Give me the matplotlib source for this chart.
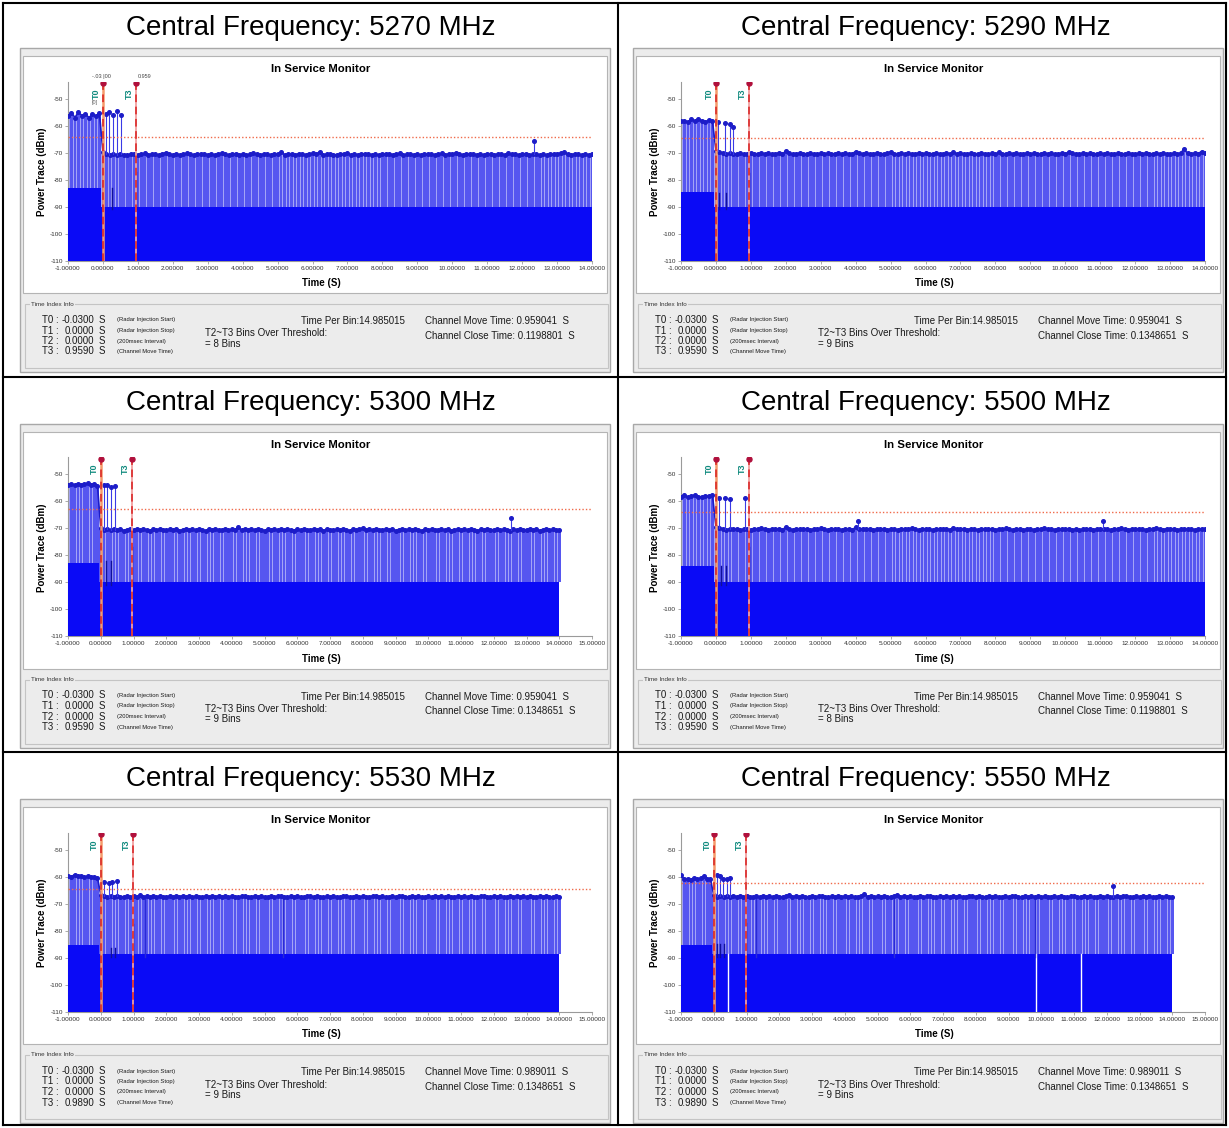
import numpy as np
import matplotlib
matplotlib.use("Agg")
import matplotlib.pyplot as plt
from matplotlib.patches import Rectangle

plt.rcParams['font.family'] = ['Liberation Sans', 'DejaVu Sans']

# ---------------- data ----------------
freqs = [5270, 5290, 5300, 5500, 5530, 5550]
x_max = [14, 14, 15, 14, 15, 15]
t_start = -1.0
t_step = 0.1

# peak level of each stem before radar stop (t = -1.0 .. -0.1)
pre_5270 = [-56.5, -55.2, -56.9, -54.8, -56.3, -55.5, -57.0, -55.6, -56.4, -55.3]
pre_5290 = [-58.2, -58.0, -58.5, -57.6, -58.3, -57.4, -58.1, -58.4, -57.9, -58.2]
pre_5300 = [-53.8, -53.5, -54.0, -53.4, -53.9, -53.6, -53.3, -53.8, -53.5, -54.1]
pre_5500 = [-58.3, -57.8, -58.5, -58.0, -57.6, -58.2, -58.4, -57.9, -58.1, -57.7]
pre_5530 = [-59.6, -59.9, -59.2, -59.8, -59.5, -60.1, -59.7, -59.9, -60.2, -60.4]
pre_5550 = [-59.3, -60.9, -60.6, -61.0, -60.4, -60.8, -60.5, -59.8, -60.7, -60.9]

# peak level of each stem after radar stop (t = 0.0 .. 14.0)
post_5270 = [
    -69.8, -70.6, -70.9, -70.5, -70.8, -70.4, -70.7, -70.9, -70.3, -70.6, -70.8, -70.5, -70.2, -70.7, -70.4,
    -70.6, -70.9, -70.3, -69.9, -70.5, -70.7, -70.4, -70.8, -70.6, -70.2, -70.5, -70.9, -70.4, -70.6, -70.3,
    -70.7, -70.5, -70.8, -70.4, -70.1, -70.6, -70.9, -70.5, -70.3, -70.7, -70.4, -70.8, -70.6, -70.2, -70.5,
    -70.8, -70.4, -70.6, -70.9, -70.3, -70.5, -69.8, -70.7, -70.4, -70.6, -70.8, -70.3, -70.5, -70.7, -70.4,
    -70.2, -70.6, -69.6, -70.8, -70.5, -70.3, -70.7, -70.9, -70.4, -70.6, -70.2, -70.8, -70.5, -70.7, -70.3,
    -70.6, -70.4, -70.8, -70.5, -70.9, -70.3, -70.6, -70.4, -70.7, -70.5, -70.2, -70.8, -70.6, -70.4, -70.7,
    -70.5, -70.9, -70.3, -70.6, -70.4, -70.8, -70.5, -70.2, -70.7, -70.4, -70.6, -69.9, -70.5, -70.8, -70.3,
    -70.6, -70.4, -70.7, -70.5, -70.9, -70.3, -70.6, -70.8, -70.4, -70.5, -70.7, -70.2, -70.6, -70.4, -70.8,
    -70.5, -70.3, -70.7, -70.6, -70.4, -70.8, -70.5, -70.9, -70.4, -70.6, -70.3, -70.1, -69.8, -70.5, -70.7,
    -70.4, -70.6, -70.8, -70.5, -70.7, -70.6]
post_5290 = [
    -69.2, -69.6, -70.1, -70.4, -70.2, -70.5, -70.3, -70.1, -70.4, -70.6, -70.2, -70.3, -70.5, -70.1, -70.4,
    -70.2, -70.5, -70.3, -70.0, -70.4, -69.4, -70.2, -70.5, -70.3, -70.1, -70.4, -70.6, -70.2, -70.3, -70.5,
    -70.1, -70.4, -70.2, -70.6, -70.3, -70.0, -70.4, -70.2, -70.5, -70.3, -69.5, -70.1, -70.4, -70.2, -70.5,
    -70.3, -70.1, -70.4, -70.6, -70.2, -69.6, -70.3, -70.5, -70.1, -70.4, -70.2, -70.3, -70.5, -70.0, -70.4,
    -70.2, -70.5, -70.3, -70.1, -70.4, -70.6, -70.2, -70.3, -69.7, -70.4, -70.1, -70.5, -70.3, -70.2, -70.4,
    -70.6, -70.1, -70.3, -70.5, -70.2, -70.4, -69.8, -70.3, -70.5, -70.1, -70.4, -70.2, -70.6, -70.3, -70.1,
    -70.4, -70.2, -70.5, -70.3, -70.0, -70.4, -70.2, -70.5, -70.3, -70.1, -70.4, -69.6, -70.2, -70.3, -70.5,
    -70.1, -70.4, -70.2, -70.6, -70.3, -70.2, -70.4, -70.1, -70.5, -70.3, -70.2, -70.4, -70.6, -70.1, -70.3,
    -70.5, -70.2, -70.4, -70.1, -70.3, -70.5, -70.2, -70.4, -70.0, -70.3, -70.5, -70.2, -70.4, -70.1, -68.6,
    -70.2, -70.4, -70.1, -70.3, -69.5, -70.2]
post_5300 = [
    -70.0, -70.5, -70.2, -70.7, -70.4, -70.6, -70.3, -70.8, -70.5, -70.2, -70.6, -70.4, -70.7, -70.3, -70.5,
    -70.8, -70.4, -70.6, -70.2, -70.5, -70.7, -70.3, -70.6, -70.4, -70.8, -70.5, -70.2, -70.6, -70.4, -70.7,
    -70.3, -70.5, -70.8, -70.4, -70.6, -70.2, -70.5, -70.7, -70.3, -70.6, -70.4, -70.5, -69.6, -70.6, -70.3,
    -70.7, -70.4, -70.5, -70.2, -70.6, -70.8, -70.4, -70.5, -70.3, -70.7, -70.4, -70.6, -70.2, -70.5, -70.8,
    -70.3, -70.6, -70.4, -70.7, -70.5, -70.2, -70.6, -70.4, -70.8, -70.3, -70.5, -70.7, -70.4, -70.6, -70.2,
    -70.5, -70.8, -70.4, -70.6, -70.3, -69.8, -70.5, -70.4, -70.6, -70.2, -70.7, -70.5, -70.3, -70.6, -70.4,
    -70.8, -70.5, -70.2, -70.6, -70.4, -70.7, -70.3, -70.5, -70.8, -70.4, -70.6, -70.2, -70.5, -70.7, -70.3,
    -70.6, -70.4, -70.8, -70.5, -70.2, -70.6, -70.4, -70.7, -70.3, -70.5, -70.8, -70.4, -70.6, -70.2, -70.5,
    -70.7, -70.3, -70.6, -70.4, -70.5, -70.8, -70.3, -70.6, -70.4, -70.7, -70.5, -70.2, -70.6, -70.4, -70.8,
    -70.5, -70.3, -70.6, -70.4, -70.7, -70.5]
post_5500 = [
    -69.4, -69.8, -70.2, -70.5, -70.1, -70.4, -70.2, -70.6, -70.3, -70.1, -70.5, -70.2, -70.4, -70.0, -70.3,
    -70.5, -70.2, -70.4, -70.1, -70.6, -69.5, -70.3, -70.5, -70.2, -70.4, -70.1, -70.3, -70.6, -70.2, -70.4,
    -70.0, -70.3, -70.5, -70.2, -70.4, -70.1, -70.6, -70.3, -70.2, -70.5, -69.6, -70.3, -70.1, -70.4, -70.2,
    -70.5, -70.3, -70.1, -70.4, -70.6, -70.2, -70.3, -70.5, -70.1, -70.4, -70.2, -70.0, -70.3, -70.5, -70.2,
    -70.4, -70.1, -70.6, -70.3, -70.2, -70.4, -70.1, -70.5, -69.7, -70.3, -70.4, -70.2, -70.5, -70.1, -70.3,
    -70.6, -70.2, -70.4, -70.1, -70.3, -70.5, -70.2, -70.4, -70.0, -70.3, -70.5, -70.2, -70.4, -70.6, -70.1,
    -70.3, -70.5, -70.2, -70.4, -69.8, -70.3, -70.1, -70.5, -70.2, -70.4, -70.3, -70.1, -70.5, -70.2, -70.6,
    -70.3, -70.4, -70.1, -70.5, -70.2, -70.3, -70.4, -70.1, -70.6, -70.2, -70.4, -70.0, -70.3, -70.5, -70.2,
    -70.4, -70.1, -70.3, -70.5, -70.2, -70.4, -69.7, -70.3, -70.5, -70.1, -70.4, -70.2, -70.6, -70.3, -70.1,
    -70.4, -70.2, -70.5, -70.3, -70.1, -70.4]
post_5530 = [
    -66.6, -67.1, -67.4, -67.2, -67.5, -67.0, -67.3, -67.5, -67.1, -67.4, -67.2, -67.5, -66.8, -67.3, -67.1,
    -67.4, -67.2, -67.5, -67.0, -67.3, -67.4, -67.1, -67.5, -67.2, -67.3, -67.0, -67.4, -67.2, -67.5, -67.1,
    -67.3, -67.4, -67.1, -67.5, -67.2, -67.3, -67.0, -67.4, -67.2, -67.5, -67.1, -67.3, -67.4, -67.2, -67.0,
    -67.5, -67.3, -67.1, -67.4, -67.2, -67.3, -67.5, -67.1, -67.4, -67.2, -67.0, -67.3, -67.5, -67.1, -67.4,
    -67.2, -67.3, -67.5, -67.1, -67.2, -67.4, -67.0, -67.3, -67.5, -67.2, -67.4, -67.1, -67.3, -67.5, -67.2,
    -67.0, -67.4, -67.3, -67.1, -67.5, -67.2, -67.4, -67.3, -67.1, -66.9, -67.4, -67.2, -67.5, -67.3, -67.1,
    -67.4, -67.2, -67.0, -67.3, -67.5, -67.2, -67.4, -67.1, -67.3, -67.5, -67.2, -67.4, -67.0, -67.3, -67.1,
    -67.5, -67.2, -67.4, -67.3, -67.1, -67.4, -67.2, -67.5, -67.0, -67.3, -67.4, -67.2, -67.1, -67.5, -67.3,
    -67.2, -67.4, -67.1, -67.3, -67.5, -67.2, -67.4, -67.0, -67.3, -67.2, -67.5, -67.1, -67.4, -67.3, -67.2,
    -67.4, -67.1, -67.3, -67.5, -67.2, -67.4]
post_5550 = [
    -66.8, -67.3, -67.1, -67.4, -67.2, -67.5, -66.9, -67.3, -67.1, -67.4, -67.2, -67.3, -67.5, -67.1, -67.4,
    -67.0, -67.3, -67.2, -67.5, -67.1, -67.3, -67.4, -67.2, -66.8, -67.3, -67.1, -67.4, -67.2, -67.5, -67.3,
    -67.1, -67.4, -67.2, -67.0, -67.3, -67.5, -67.2, -67.4, -67.1, -67.3, -67.2, -67.4, -67.1, -67.5, -67.3,
    -67.2, -66.4, -67.3, -67.1, -67.4, -67.2, -67.5, -67.1, -67.3, -67.4, -67.2, -66.6, -67.3, -67.1, -67.4,
    -67.2, -67.5, -67.3, -67.1, -67.4, -67.2, -67.0, -67.3, -67.5, -67.2, -67.4, -67.1, -67.3, -67.2, -67.5,
    -67.1, -67.4, -67.3, -67.2, -67.0, -67.4, -67.2, -67.5, -67.3, -67.1, -67.4, -67.2, -67.3, -67.5, -67.1,
    -67.4, -67.2, -67.0, -67.3, -67.5, -67.2, -67.4, -67.1, -67.3, -67.2, -67.5, -67.1, -67.4, -67.3, -67.2,
    -67.4, -67.1, -67.3, -67.5, -67.2, -67.0, -67.4, -67.3, -67.1, -67.5, -67.2, -67.4, -67.3, -67.1, -67.4,
    -67.2, -67.5, -67.3, -67.1, -67.4, -67.2, -67.0, -67.3, -67.5, -67.2, -67.4, -67.1, -67.3, -67.2, -67.5,
    -67.3, -67.1, -67.4, -67.2, -67.3, -67.5]

# top of the dense (dark) part of the trace before / after radar stop
pre_floor = [-83.0, -84.4, -82.7, -84.0, -85.2, -85.2]
post_floor = [-90.0, -90.0, -90.0, -90.0, -88.7, -88.7]
threshold = [-64.2, -64.5, -62.7, -64.0, -64.3, -62.3]

# isolated stems above the trace: (time, dBm)
spikes_5270 = [(0.09, -55.4), (0.18, -54.9), (0.29, -55.8), (0.40, -54.6), (0.51, -55.9), (12.35, -65.5)]
spikes_5290 = [(0.06, -58.5), (0.26, -58.8), (0.40, -59.2), (0.50, -60.3)]
spikes_5300 = [(0.10, -54.0), (0.20, -53.8), (0.30, -54.5), (0.45, -54.2), (12.53, -66.0)]
spikes_5500 = [(0.10, -58.6), (0.25, -58.8), (0.40, -59.0), (0.83, -58.7), (4.07, -67.3), (11.08, -67.3)]
spikes_5530 = [(0.10, -61.8), (0.25, -62.2), (0.35, -62.0), (0.50, -61.6)]
spikes_5550 = [(0.09, -59.4), (0.19, -59.8), (0.28, -60.8), (0.40, -60.8), (0.50, -60.5), (12.19, -63.5)]

# dark stems inside the trace: (time, top dBm)
dark_5270 = [(0.0, -77.0), (0.959, -77.0), (0.25, -83.0)]
dark_5290 = [(0.0, -77.5), (0.959, -77.5), (0.10, -85.0), (0.30, -85.0)]
dark_5300 = [(0.0, -77.0), (0.959, -77.0), (0.15, -82.0), (0.30, -82.0)]
dark_5500 = [(0.0, -77.0), (0.959, -77.0), (0.15, -84.0), (0.30, -84.0)]
dark_5530 = [(0.0, -77.5), (0.989, -77.5), (0.30, -86.5), (0.45, -86.5), (1.35, -67.5), (5.55, -67.5)]
dark_5550 = [(0.0, -77.0), (0.989, -77.0), (0.10, -85.0), (0.20, -85.0), (0.30, -85.0),
             (1.30, -67.5), (5.50, -67.5), (9.80, -67.5)]

# gaps in the dense trace
gaps_5550 = [0.42, 9.85, 11.2]

# time index info
t0_vals = ['-0.0300'] * 6
t1_vals = ['0.0000'] * 6
t2_vals = ['0.0000'] * 6
t3_vals = ['0.9590', '0.9590', '0.9590', '0.9590', '0.9890', '0.9890']
t3_time = [0.959, 0.959, 0.959, 0.959, 0.989, 0.989]
t1_time = [0.0] * 6
bins_over = [8, 9, 9, 8, 9, 9]
move_time = ['0.959041', '0.959041', '0.959041', '0.959041', '0.989011', '0.989011']
close_time = ['0.1198801', '0.1348651', '0.1348651', '0.1198801', '0.1348651', '0.1348651']
time_per_bin = '14.985015'
t_notes = ['(Radar Injection Start)', '(Radar Injection Stop)', '(200msec Interval)', '(Channel Move Time)']

panels = [
    dict(pre=pre_5270, post=post_5270, spikes=spikes_5270, dark=dark_5270, gaps=[]),
    dict(pre=pre_5290, post=post_5290, spikes=spikes_5290, dark=dark_5290, gaps=[]),
    dict(pre=pre_5300, post=post_5300, spikes=spikes_5300, dark=dark_5300, gaps=[]),
    dict(pre=pre_5500, post=post_5500, spikes=spikes_5500, dark=dark_5500, gaps=[]),
    dict(pre=pre_5530, post=post_5530, spikes=spikes_5530, dark=dark_5530, gaps=[]),
    dict(pre=pre_5550, post=post_5550, spikes=spikes_5550, dark=dark_5550, gaps=gaps_5550),
]

# ---------------- figure ----------------
W, H = 1229, 1128
fig = plt.figure(figsize=(W / 100, H / 100), dpi=100)
bg = fig.add_axes([0, 0, 1, 1])
bg.set_xlim(0, W)
bg.set_ylim(H, 0)
bg.axis('off')


def frac(x0, y0, x1, y1):
    return [x0 / W, 1 - y1 / H, (x1 - x0) / W, (y1 - y0) / H]


COL_DX = [0, 613]
ROW_DY = [0, 375.5, 751]
DARK = '#0a0af6'
MID = '#5656f0'
PALE = '#a4a4f6'
LINE = '#1c1cc8'
TXT = '#1a1a1a'

for i, f in enumerate(freqs):
    r, c = divmod(i, 2)
    dx, dy = COL_DX[c], ROW_DY[r]
    p = panels[i]

    # header
    bg.text(311 + dx + (2 if c else 0), 35 + dy, f'Central Frequency: {f} MHz', fontsize=20,
            ha='center', va='baseline', color='black')
    # screenshot frame
    bg.add_patch(Rectangle((20 + dx, 48 + dy), 590, 324, facecolor='#ececec', edgecolor='#a8a8a8', lw=1))
    bg.add_patch(Rectangle((23 + dx, 56 + dy), 584, 237, facecolor='white', edgecolor='#b4b4b4', lw=0.8))
    bg.text(321 + dx, 69 + dy, 'In Service Monitor', fontsize=8.2, weight='bold', ha='center', va='center')
    bg.text(41.7 + dx, 172 + dy, 'Power Trace (dBm)', fontsize=7, weight='bold', rotation=90,
            ha='center', va='center')
    bg.text(321 + dx, 283 + dy, 'Time (S)', fontsize=7, weight='bold', ha='center', va='center')

    # info group box
    bg.add_patch(Rectangle((25 + dx, 304 + dy), 583, 64, facecolor='none', edgecolor='#c4c4c4', lw=0.8))
    bg.text(31 + dx, 304 + dy, 'Time Index Info', fontsize=4.5, ha='left', va='center', color='#333',
            bbox=dict(facecolor='#ececec', edgecolor='none', pad=0.6))
    tvals = [t0_vals[i], t1_vals[i], t2_vals[i], t3_vals[i]]
    for k, yy in enumerate([320, 330.5, 341, 351.5]):
        bg.text(42 + dx, yy + dy, f'T{k} :', fontsize=7, ha='left', va='center', color=TXT)
        bg.text(94 + dx, yy + dy, tvals[k], fontsize=7, ha='right', va='center', color=TXT)
        bg.text(99 + dx, yy + dy, 'S', fontsize=7, ha='left', va='center', color=TXT)
        bg.text(117 + dx, yy + dy, t_notes[k], fontsize=4.2, ha='left', va='center', color=TXT)
    bg.text(405 + dx, 321 + dy, f'Time Per Bin:{time_per_bin}', fontsize=7, ha='right', va='center', color=TXT)
    bg.text(205 + dx, 333.5 + dy, 'T2~T3 Bins Over Threshold:', fontsize=7, ha='left', va='center', color=TXT)
    bg.text(205 + dx, 344 + dy, f'= {bins_over[i]} Bins', fontsize=7, ha='left', va='center', color=TXT)
    bg.text(425 + dx, 321 + dy, f'Channel Move Time: {move_time[i]}  S', fontsize=7, ha='left', va='center', color=TXT)
    bg.text(425 + dx, 336 + dy, f'Channel Close Time: {close_time[i]}  S', fontsize=7, ha='left', va='center', color=TXT)

    # ---- the plot ----
    ax = fig.add_axes(frac(68 + dx, 81.7 + dy, 592 + dx, 260.7 + dy))
    ax.set_facecolor('none')
    level = np.array(p['pre'] + p['post'])
    t = t_start + t_step * np.arange(len(level))
    floor = np.where(t < 0, pre_floor[i], post_floor[i])

    ax.fill_between(t, floor, level, step='mid', color=PALE, lw=0, zorder=1)
    ax.bar(t, level - floor, bottom=floor, width=0.08, color=MID, lw=0, zorder=2)
    ax.fill_between(t, -110, floor, step='mid', color=DARK, lw=0, zorder=3)
    for g in p['gaps']:
        ax.plot([g, g], [-110, post_floor[i]], color='white', lw=1.0, zorder=3.5)
    for ts, top in p['dark']:
        base = pre_floor[i] if ts < 0 else post_floor[i]
        col = '#10109a' if top < -75 else '#2a2ad6'
        ax.plot([ts, ts], [base - 1, top], color=col, lw=1.0, zorder=4)
    ax.plot(t, level, color=LINE, lw=1.2, marker='o', ms=2.6, mec=LINE, mfc=LINE, zorder=5)
    for ts, v in p['spikes']:
        base = float(np.interp(ts, t, level))
        ax.plot([ts, ts], [base, v], color='#3a3ae6', lw=0.8, zorder=5)
        ax.plot([ts], [v], 'o', ms=2.6, color=LINE, zorder=6)

    # threshold
    ax.plot([t_start, x_max[i]], [threshold[i]] * 2, color='#f06a4a', lw=1.0, ls=(0, (1, 1.5)), zorder=6)

    # T markers
    for ts, lab, lw, col in [(t1_time[i], 'T0', 1.8, '#f59a6a'), (t3_time[i], 'T3', 1.3, '#f2a0a0')]:
        ax.plot([ts, ts], [-110, -44.2], color=col, lw=lw, zorder=7)
        ax.plot([ts, ts], [-110, -44.2], color='#d82020', lw=1.1, ls=(0, (5, 3)), zorder=8)
        ax.plot([ts], [-44.2], 'o', ms=3.6, color='#b0103c', zorder=9)
        ax.text(ts - 0.2, -48.0, lab, rotation=90, color='#108a7e', fontsize=6.5, weight='bold',
                ha='center', va='center', zorder=9)
    if i == 0:
        ax.text(-0.05, -41.6, '-.03 |00', fontsize=4, color='#444', ha='center', va='center', clip_on=False)
        ax.text(1.2, -41.6, '0.959', fontsize=4, color='#444', ha='center', va='center', clip_on=False)
        ax.text(-0.23, -51.5, '[0]', fontsize=4, color='#666', ha='center', va='center', zorder=9)

    ax.set_xlim(t_start, x_max[i])
    ax.set_ylim(-110, -43.6)
    xt = list(range(-1, x_max[i] + 1))
    ax.set_xticks(xt)
    ax.set_xticklabels([f'{v:.5f}' for v in xt])
    yt = list(range(-110, -49, 10))
    ax.set_yticks(yt)
    ax.set_yticklabels([str(v) for v in yt])
    ax.tick_params(labelsize=4.6, length=2, width=0.5, color='#888', labelcolor='#303030', pad=1.5)
    for s in ['top', 'right']:
        ax.spines[s].set_visible(False)
    for s in ['left', 'bottom']:
        ax.spines[s].set_color('#9a9a9a')
        ax.spines[s].set_linewidth(0.8)

# cell grid
for x in [3, 618, 1226]:
    bg.plot([x, x], [3, 1125], color='black', lw=1.5)
for y in [3, 377, 752, 1125]:
    bg.plot([3, 1226], [y, y], color='black', lw=1.5)

fig.savefig('out.png', dpi=100)
